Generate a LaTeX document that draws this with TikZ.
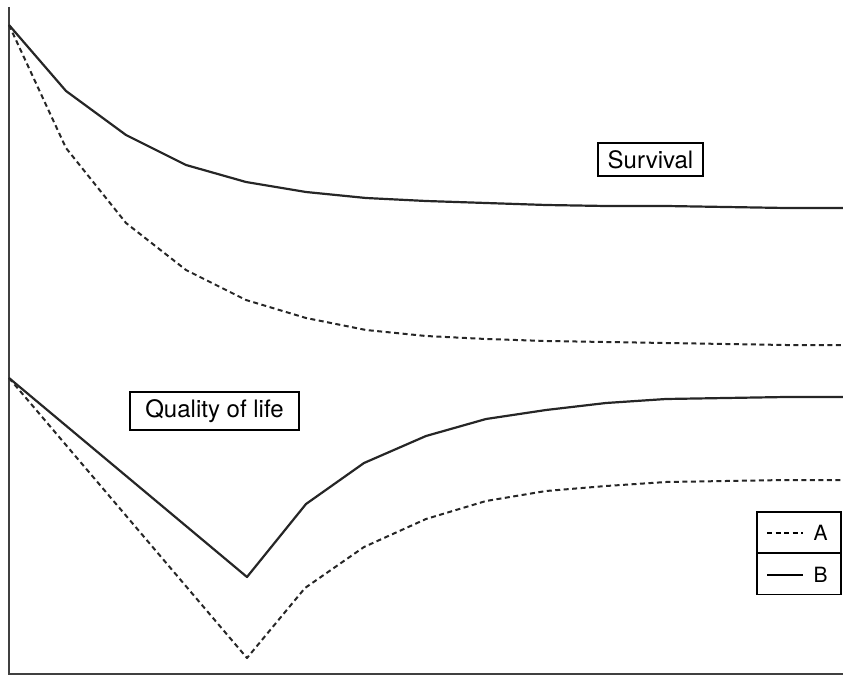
\documentclass[tikz,border=0pt]{standalone}
\usepackage{fontspec}
\setmainfont{TeX Gyre Heros}
\begin{document}
\begin{tikzpicture}[x=1pt,y=-1pt,
  curve/.style={line width=2.2pt,line join=round,color=black!85},
  dcurve/.style={curve,line width=2pt,dash pattern=on 5pt off 3.5pt},
  axis/.style={line width=1.6pt,color=black!75},
  lab/.style={draw,line width=1.1pt,inner sep=0pt,font=\fontsize{24}{28}\selectfont},
  legbox/.style={draw,line width=1.1pt,minimum width=84pt,minimum height=41pt,inner sep=0pt}]
\useasboundingbox (0,0) rectangle (843,676);
% axes
\coordinate (o) at (9,674);
\coordinate (top) at (9,7);
\coordinate (right) at (843,674);
\draw[axis] (top) -- (o) -- (right);
% survival B
\draw[curve] (9,25) -- (66,91) -- (126,135) -- (186,165) -- (246,182) -- (306,192) -- (366,198) -- (426,201) -- (486,203) -- (546,205) -- (606,206) -- (666,206) -- (726,207) -- (786,208) -- (843,208);
% survival A
\draw[dcurve] (9,25) -- (66,148) -- (126,223) -- (186,270) -- (246,300) -- (306,318) -- (366,330) -- (426,336) -- (486,339) -- (546,341) -- (606,342) -- (666,343) -- (726,344) -- (786,345) -- (843,345);
% quality B
\draw[curve] (9,378) -- (247,577) -- (306,504) -- (364,463) -- (426,436) -- (486,419) -- (546,410) -- (606,403) -- (666,399) -- (726,398) -- (786,397) -- (843,397);
% quality A
\draw[dcurve] (9,378) -- (247,658) -- (305,588) -- (364,547) -- (426,519) -- (486,501) -- (546,491) -- (606,486) -- (666,482) -- (726,481) -- (786,480) -- (843,480);
% labels
\node[lab,minimum width=105pt,minimum height=33pt] (surv) at (650.5,159.5) {Survival};
\node[lab,minimum width=169pt,minimum height=38pt] (qol) at (214.5,411) {Quality of life};
% legend
\node[legbox] (legA) at (799,532.5) {};
\node[legbox] (legB) at (799,574) {};
\coordinate (a1) at (767,533);
\coordinate (a2) at (803,533);
\coordinate (b1) at (767,575);
\coordinate (b2) at (803,575);
\draw[line width=1.8pt,dash pattern=on 5pt off 3.5pt] (a1) -- (a2);
\draw[line width=1.8pt] (b1) -- (b2);
\node[font=\fontsize{21}{24}\selectfont,inner sep=0pt] (la) at (820.5,533) {A};
\node[font=\fontsize{21}{24}\selectfont,inner sep=0pt] (lb) at (820.5,575) {B};
\end{tikzpicture}
\end{document}
